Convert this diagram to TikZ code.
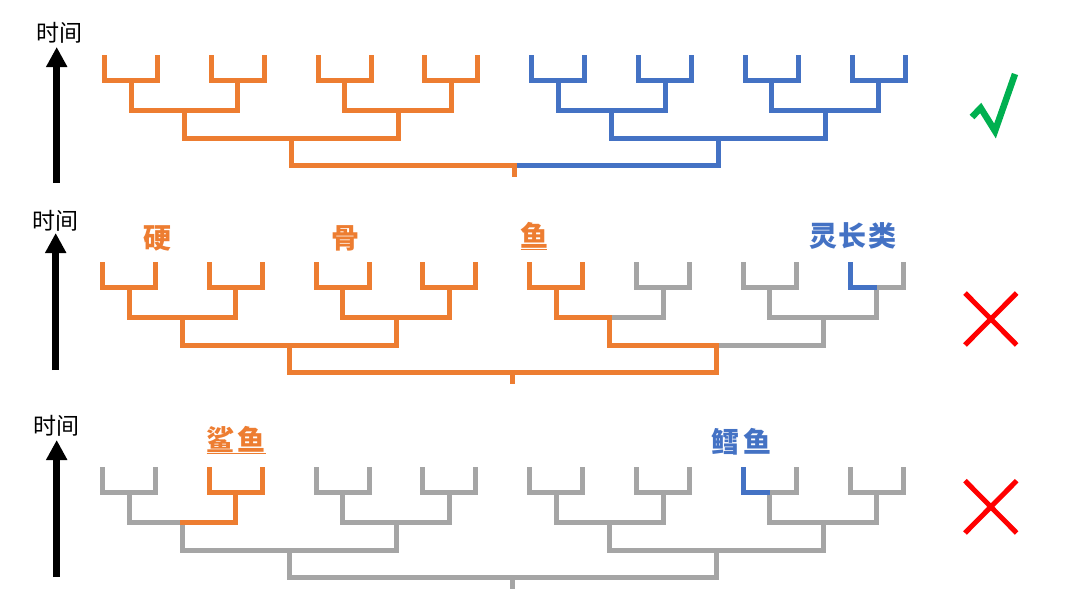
\documentclass[tikz,border=0pt]{standalone}
\usepackage{fontspec}
\newfontfamily\cjk{Noto Sans CJK SC}
\usetikzlibrary{arrows.meta}
\definecolor{ora}{HTML}{ED7D31}
\definecolor{blu}{HTML}{4472C4}
\definecolor{gry}{HTML}{A5A5A5}
\definecolor{grn}{HTML}{00B050}
\definecolor{rd}{HTML}{FF0000}
\tikzset{
  br/.style={line width=5pt, line cap=rect, line join=miter},
  og/.style={br, draw=ora},
  bl/.style={br, draw=blu},
  gy/.style={br, draw=gry},
  lab/.style={font=\cjk\bfseries\fontsize{28}{28}\selectfont, inner sep=0pt},
  timelab/.style={font=\cjk\fontsize{23}{23}\selectfont, inner sep=0pt},
  tarrow/.style={line width=7pt, -{Triangle[length=20pt,width=20pt]}},
  crossline/.style={line width=5pt, draw=rd},
}
% pair j
\newcommand\TzPair[2]{%
  \pgfmathsetmacro\tzL{104.5+106.8*#1}\pgfmathsetmacro\tzR{\tzL+53}\pgfmathsetmacro\tzC{\tzL+26.5}%
  \draw[#2] (\tzL,57.5)--(\tzL,80)--(\tzR,80)--(\tzR,57.5);
  \draw[#2] (\tzC,80)--(\tzC,110);}
\newcommand\TzLevTwo[2]{%
  \pgfmathsetmacro\tzA{131+213.6*#1}\pgfmathsetmacro\tzB{\tzA+106.8}\pgfmathsetmacro\tzC{\tzA+53.4}%
  \draw[#2] (\tzA,110)--(\tzB,110);
  \draw[#2] (\tzC,110)--(\tzC,138.5);}
\newcommand\TzLevThree[2]{%
  \pgfmathsetmacro\tzA{184.4+427.2*#1}\pgfmathsetmacro\tzB{\tzA+213.6}\pgfmathsetmacro\tzC{\tzA+106.8}%
  \draw[#2] (\tzA,138.5)--(\tzB,138.5);
  \draw[#2] (\tzC,138.5)--(\tzC,165);}
\newcommand\TzFull[1]{%
  \foreach \j in {0,...,7}{\TzPair{\j}{#1}}
  \foreach \k in {0,...,3}{\TzLevTwo{\k}{#1}}
  \foreach \m in {0,1}{\TzLevThree{\m}{#1}}
  \draw[#1] (291.2,165)--(718.4,165);
  \draw[#1] (514,165)--(514,174.5);}
\begin{document}
\begin{tikzpicture}[x=1pt,y=-1pt]
\useasboundingbox (0,0) rectangle (1080,608);
% ---------- row 1
\begin{scope}
  \foreach \j in {4,...,7}{\TzPair{\j}{bl}}
  \foreach \k in {2,3}{\TzLevTwo{\k}{bl}}
  \TzLevThree{1}{bl}
  \draw[bl] (514,165)--(718.4,165);
  \foreach \j in {0,...,3}{\TzPair{\j}{og}}
  \foreach \k in {0,1}{\TzLevTwo{\k}{og}}
  \TzLevThree{0}{og}
  \draw[og] (291.2,165)--(514,165);
  \draw[og] (514,165)--(514,174.5);
\end{scope}
% ---------- row 2
\begin{scope}[shift={(-2,207)}]
  \TzFull{gy}
  \foreach \j in {0,...,4}{\TzPair{\j}{og}}
  \foreach \k in {0,1}{\TzLevTwo{\k}{og}}
  \TzLevThree{0}{og}
  \draw[og] (558.2,110)--(611.6,110)--(611.6,138.5);
  \draw[og] (611.6,138.5)--(718.4,138.5)--(718.4,165);
  \draw[og] (291.2,165)--(718.4,165);
  \draw[og] (514,165)--(514,174.5);
  \draw[bl] (852.1,57.5)--(852.1,80)--(876,80);
\end{scope}
% ---------- row 3
\begin{scope}[shift={(-2,412)}]
  \TzFull{gy}
  \TzPair{1}{og}
  \draw[og] (184.4,110)--(237.8,110);
  \draw[bl] (745.3,57.5)--(745.3,80)--(769,80);
\end{scope}
% ---------- time axes
\node[timelab] (t1) at (59,33) {时间};
\node[timelab] (t2) at (55,221) {时间};
\node[timelab] (t3) at (57,426) {时间};
\coordinate (a1s) at (56.7,183); \coordinate (a1e) at (56.7,47);
\coordinate (a2s) at (55.7,370); \coordinate (a2e) at (55.7,233);
\coordinate (a3s) at (56.7,577); \coordinate (a3e) at (56.7,440);
\draw[tarrow] (a1s) -- (a1e);
\draw[tarrow] (a2s) -- (a2e);
\draw[tarrow] (a3s) -- (a3e);
% ---------- labels
\node[lab, text=ora] (ying) at (157,238) {硬};
\node[lab, text=ora] (gu) at (345,238) {骨};
\node[lab, text=ora] (yu) at (534,235) {鱼};
\draw[ora, line width=1.8pt] (520.7,249.5) -- (546.7,249.5);
\node[lab, text=blu] (lzl) at (853,236) {灵\hspace{2pt}长\hspace{2pt}类};
\node[lab, text=ora] (shayu) at (236,439) {鲨\hspace{4pt}鱼};
\draw[ora, line width=1.8pt] (206.7,453.5) -- (266,453.5);
\node[lab, text=blu] (xueyu) at (741.7,442) {鳕\hspace{4pt}鱼};
% ---------- verdict marks
\draw[line width=6.5pt, draw=grn, line join=miter] (972,117)--(980.7,108)--(995,131)--(1015,74);
\draw[crossline] (965,293)--(1016.7,345);
\draw[crossline] (1016.7,293)--(965,345);
\draw[crossline] (965,480.7)--(1016.7,533);
\draw[crossline] (1016.7,480.7)--(965,533);
\end{tikzpicture}
\end{document}
